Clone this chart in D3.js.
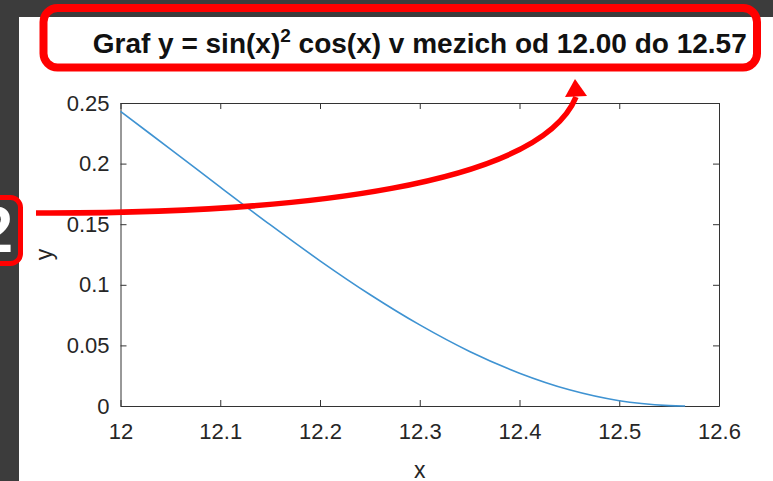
<!DOCTYPE html>
<html>
<head>
<meta charset="utf-8">
<script src="https://cdn.jsdelivr.net/npm/d3@7"></script>
<style>
  body { margin: 0; background: #3c3c3c; }
  svg { display: block; font-family: "Liberation Sans", Arial, Helvetica, sans-serif; }
</style>
</head>
<body>
<script>

// data
var xValues = [12, 12.05, 12.1, 12.15, 12.2, 12.25, 12.3, 12.35, 12.4, 12.45, 12.5, 12.55, 12.566];
var yValues = [0.243, 0.212, 0.1806, 0.1496, 0.1198, 0.092, 0.0669, 0.045, 0.0271, 0.0134, 0.0044, 0.0003, 0];

var xTicks = [12, 12.1, 12.2, 12.3, 12.4, 12.5, 12.6];
var xTickLabels = ["12", "12.1", "12.2", "12.3", "12.4", "12.5", "12.6"];
var yTicks = [0, 0.05, 0.1, 0.15, 0.2, 0.25];
var yTickLabels = ["0", "0.05", "0.1", "0.15", "0.2", "0.25"];

var titleStart = "Graf y = sin(x)";
var titleSup = "2";
var titleEnd = " cos(x) v mezich od 12.00 do 12.57";

var width = 773;
var height = 481;

var svg = d3.select("body").append("svg")
	.attr("width", width)
	.attr("height", height);

// dark frame + white figure
svg.append("rect")
	.attr("width", width).attr("height", height)
	.attr("fill", "#3c3c3c");
svg.append("rect")
	.attr("x", 19).attr("y", 17)
	.attr("width", width - 19).attr("height", height - 17)
	.attr("fill", "#ffffff");

var plotLeft = 120.5, plotRight = 719, plotTop = 103, plotBottom = 406;

var x = d3.scaleLinear().domain([12, 12.6]).range([plotLeft, plotRight]);
var y = d3.scaleLinear().domain([0, 0.25]).range([plotBottom, plotTop]);

var axisColor = "#333333";
var tickFont = 22;

var styleAxis = function(g){
	g.selectAll(".domain").attr("stroke", axisColor).attr("stroke-width", 1);
	g.selectAll(".tick line").attr("stroke", axisColor).attr("stroke-width", 1);
	g.selectAll(".tick text")
		.attr("fill", "#262626")
		.style("font-size", tickFont + "px")
		.style("font-family", "'Liberation Sans', Arial, sans-serif");
};

svg.append("g")
	.attr("transform", "translate(0," + plotBottom + ")")
	.call(d3.axisBottom(x).tickValues(xTicks)
		.tickFormat(function(d, i){ return xTickLabels[i]; })
		.tickSizeInner(-6).tickSizeOuter(0).tickPadding(17))
	.call(styleAxis);

svg.append("g")
	.attr("transform", "translate(0," + plotTop + ")")
	.call(d3.axisTop(x).tickValues(xTicks).tickFormat("")
		.tickSizeInner(-6).tickSizeOuter(0))
	.call(styleAxis);

svg.append("g")
	.attr("transform", "translate(" + plotLeft + ",0)")
	.call(d3.axisLeft(y).tickValues(yTicks)
		.tickFormat(function(d, i){ return yTickLabels[i]; })
		.tickSizeInner(-6).tickSizeOuter(0).tickPadding(11))
	.call(styleAxis);

svg.append("g")
	.attr("transform", "translate(" + plotRight + ",0)")
	.call(d3.axisRight(y).tickValues(yTicks).tickFormat("")
		.tickSizeInner(-6).tickSizeOuter(0))
	.call(styleAxis);

// the curve
var points = xValues.map(function(v, i){ return [v, yValues[i]]; });
var line = d3.line()
	.x(function(d){ return x(d[0]); })
	.y(function(d){ return y(d[1]); })
	.curve(d3.curveCatmullRom);

svg.append("path")
	.datum(points)
	.attr("d", line)
	.attr("fill", "none")
	.attr("stroke", "#3f93d2")
	.attr("stroke-width", 1.6);

// axis labels
svg.append("text")
	.attr("x", (plotLeft + plotRight) / 2).attr("y", 478)
	.attr("text-anchor", "middle")
	.attr("fill", "#262626")
	.style("font-size", "23px")
	.text("x");

svg.append("text")
	.attr("transform", "translate(52," + ((plotTop + plotBottom) / 2) + ") rotate(-90)")
	.attr("text-anchor", "middle")
	.attr("fill", "#262626")
	.style("font-size", "23px")
	.text("y");

// title
var title = svg.append("text")
	.attr("x", (plotLeft + plotRight) / 2).attr("y", 53)
	.attr("text-anchor", "middle")
	.attr("fill", "#111111")
	.style("font-size", "28px")
	.style("font-weight", "bold");
title.append("tspan").text(titleStart);
title.append("tspan").attr("dy", -11).style("font-size", "19px").text(titleSup);
title.append("tspan").attr("dy", 11).text(titleEnd);

// annotation: box round the title
var red = "#ff0000";
svg.append("rect")
	.attr("x", 43.5).attr("y", 8)
	.attr("width", 713.5).attr("height", 59.5)
	.attr("rx", 14)
	.attr("fill", "none")
	.attr("stroke", red)
	.attr("stroke-width", 8);

// annotation: step marker on the left
svg.append("rect")
	.attr("x", -20).attr("y", 197.5)
	.attr("width", 40.5).attr("height", 66)
	.attr("rx", 10)
	.attr("fill", "#3c3c3c")
	.attr("stroke", red)
	.attr("stroke-width", 5);
svg.append("text")
	.attr("x", 13).attr("y", 252)
	.attr("text-anchor", "end")
	.attr("fill", "#ffffff")
	.style("font-size", "64px")
	.style("font-weight", "bold")
	.text("2");

// annotation: arrow
svg.append("path")
	.attr("d", "M36,213 C300,214 540,185 576,97")
	.attr("fill", "none")
	.attr("stroke", red)
	.attr("stroke-width", 5.5);
svg.append("path")
	.attr("d", "M575,79 L565,97 L587,96 Z")
	.attr("fill", red);

</script>
</body>
</html>
